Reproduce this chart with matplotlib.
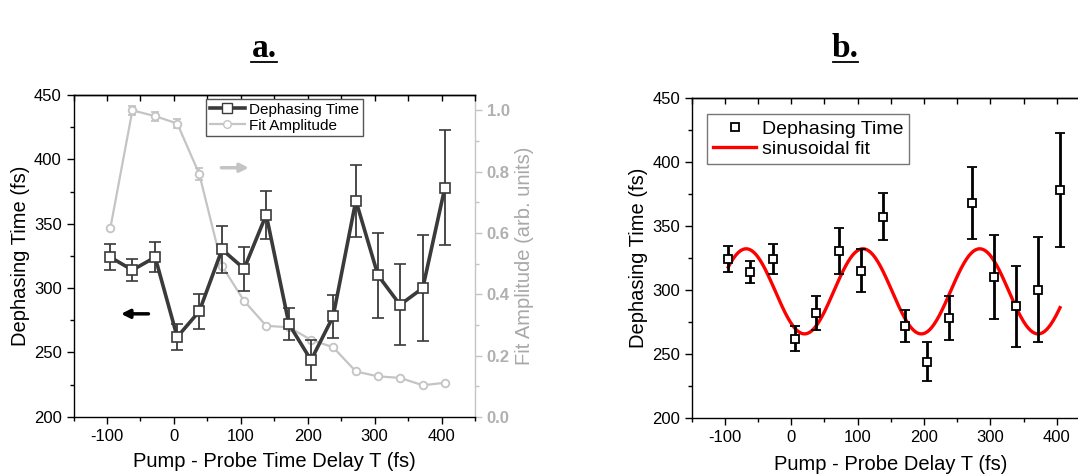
import numpy as np
import matplotlib
matplotlib.use("Agg")
import matplotlib.pyplot as plt
from matplotlib.lines import Line2D
from matplotlib.ticker import MultipleLocator

plt.rcParams['font.family'] = ['Liberation Sans', 'DejaVu Sans']
plt.rcParams['axes.unicode_minus'] = False

# ---------------- data ----------------
delay = [-95, -62, -28, 5, 38, 72, 105, 138, 172, 205, 238, 272, 305, 338, 372, 405]
dephasing = [324, 314, 324, 262, 282, 330, 315, 357, 272, 244, 278, 368, 310, 287, 300, 378]
dephasing_err = [10, 8.5, 11.5, 10, 13.5, 18, 17, 18.5, 12.5, 15.5, 17, 28, 33, 31.5, 41, 44.5]
fit_amp = [0.615, 1.00, 0.981, 0.957, 0.792, 0.492, 0.378, 0.297, 0.292, 0.251,
           0.227, 0.148, 0.132, 0.127, 0.103, 0.111]
fit_amp_err = [0, 0.015, 0.015, 0.015, 0.02, 0, 0, 0, 0, 0, 0, 0, 0, 0, 0, 0]

# sinusoidal fit parameters
fit_offset = 298.8
fit_amplitude = 33.2
fit_period = 176.0
fit_peak = -68.0

x_ticks = [-100, 0, 100, 200, 300, 400]
y_ticks = [200, 250, 300, 350, 400, 450]
amp_ticks = [0.0, 0.2, 0.4, 0.6, 0.8, 1.0]

# ---------------- styles ----------------
DARK = '#3a3a3a'
LIGHT = '#c4c4c4'
AXGRAY = '#b0b0b0'
TICK_FS = 12
LABEL_FS = 14.5

fig = plt.figure(figsize=(10.78, 4.75), dpi=100)


def style_axes(ax):
    ax.set_xlim(-150, 450)
    ax.set_ylim(200, 450)
    ax.set_xticks(x_ticks)
    ax.set_yticks(y_ticks)
    ax.xaxis.set_minor_locator(MultipleLocator(50))
    ax.yaxis.set_minor_locator(MultipleLocator(25))
    ax.tick_params(which='major', direction='out', length=5, width=1,
                   labelsize=TICK_FS, top=False, right=False)
    ax.tick_params(which='minor', direction='out', length=3, width=1,
                   top=False, right=False)
    for s in ax.spines.values():
        s.set_linewidth(1.0)
    sec = ax.secondary_xaxis('top')
    sec.set_xticks(x_ticks)
    sec.xaxis.set_minor_locator(MultipleLocator(50))
    sec.tick_params(which='both', direction='in', length=4, width=1, labeltop=False)
    sec.spines['top'].set_linewidth(1.0)
    return sec


# ================= panel a =================
ax1 = fig.add_axes([0.0682, 0.1225, 0.3724, 0.6775])
style_axes(ax1)
ax1.spines['right'].set_visible(False)
ax2 = ax1.twinx()
ax1.set_zorder(ax2.get_zorder() + 1)
ax1.patch.set_visible(False)

ax2.errorbar(delay, fit_amp, yerr=fit_amp_err, color=LIGHT, lw=1.6,
             marker='o', ms=5.5, mfc='white', mec=LIGHT, mew=1.3,
             ecolor=LIGHT, elinewidth=1.2, capsize=3, capthick=1.2)
ax2.set_ylim(0, 1.05)
ax2.set_yticks(amp_ticks)
ax2.yaxis.set_minor_locator(MultipleLocator(0.1))
ax2.tick_params(axis='y', which='major', direction='out', length=5, width=1,
                color=LIGHT, labelcolor=AXGRAY, labelsize=TICK_FS)
ax2.tick_params(axis='y', which='minor', direction='out', length=3, width=1, color=LIGHT)
for lab in ax2.get_yticklabels():
    lab.set_fontweight('bold')
ax2.spines['right'].set_color(LIGHT)
ax2.spines['right'].set_linewidth(1.0)
ax2.spines['top'].set_visible(False)
ax2.spines['left'].set_visible(False)
ax2.spines['bottom'].set_visible(False)
ax2.set_ylabel('Fit Amplitude (arb. units)', color='#a8a8a8', fontsize=LABEL_FS, labelpad=4)

ax1.errorbar(delay, dephasing, yerr=dephasing_err, color=DARK, lw=2.6,
             marker='s', ms=7, mfc='white', mec=DARK, mew=1.2,
             ecolor=DARK, elinewidth=1.3, capsize=4, capthick=1.3)
ax1.set_ylabel('Dephasing Time (fs)', fontsize=LABEL_FS, labelpad=3)
ax1.set_xlabel('Pump - Probe Time Delay T (fs)', fontsize=LABEL_FS, labelpad=6)

# direction arrows
ax1.annotate('', xy=(-79, 280), xytext=(-38, 280),
             arrowprops=dict(arrowstyle='-|>,head_length=0.5,head_width=0.25',
                             color='black', lw=2.5, shrinkA=0, shrinkB=0))
ax1.annotate('', xy=(112, 393.5), xytext=(71, 393.5),
             arrowprops=dict(arrowstyle='-|>,head_length=0.5,head_width=0.25',
                             color=LIGHT, lw=2.5, shrinkA=0, shrinkB=0))

h_a = [Line2D([], [], color=DARK, lw=2.6, marker='s', ms=7, mfc='white', mec=DARK),
       Line2D([], [], color=LIGHT, lw=1.6, marker='o', ms=5.5, mfc='white', mec=LIGHT)]
leg_a = ax1.legend(h_a, ['Dephasing Time', 'Fit Amplitude'], loc='upper left',
                   bbox_to_anchor=(205.7 / 1078, 1 - 99 / 475),
                   bbox_transform=fig.transFigure, borderaxespad=0,
                   fancybox=False, framealpha=1, edgecolor='#555555',
                   fontsize=11, handlelength=2.3, handletextpad=0.3,
                   labelspacing=0.12, borderpad=0.25)
leg_a.get_frame().set_linewidth(1.0)

# ================= panel b =================
axb = fig.add_axes([0.6417, 0.12, 0.3693, 0.6747])
style_axes(axb)

xfit = np.linspace(delay[0], delay[-1], 400)
yfit = fit_offset + fit_amplitude * np.cos(2 * np.pi * (xfit - fit_peak) / fit_period)
axb.plot(xfit, yfit, color='#ff0000', lw=2.4, zorder=2)
axb.errorbar(delay, dephasing, yerr=dephasing_err, ls='none', color='black',
             marker='s', ms=6, mfc='white', mec='black', mew=1.3,
             ecolor='black', elinewidth=2.0, capsize=3.5, capthick=2.0, zorder=3)
axb.set_ylabel('Dephasing Time (fs)', fontsize=LABEL_FS, labelpad=3)
axb.set_xlabel('Pump - Probe Delay T (fs)', fontsize=LABEL_FS, labelpad=7)

h_b = [Line2D([], [], ls='none', marker='s', ms=6, mfc='white', mec='black', mew=1.3),
       Line2D([], [], color='#ff0000', lw=2.4)]
leg_b = axb.legend(h_b, ['Dephasing Time', 'sinusoidal fit'], loc='upper left',
                   bbox_to_anchor=(707.3 / 1078, 1 - 114.3 / 475),
                   bbox_transform=fig.transFigure, borderaxespad=0,
                   fancybox=False, framealpha=1, edgecolor='#777777',
                   fontsize=14, handlelength=2.2, handletextpad=0.3,
                   labelspacing=0.15, borderpad=0.3)
leg_b.get_frame().set_linewidth(1.0)

# ================= panel titles =================
for label, cx, x0, x1 in [('a.', 264, 251, 277), ('b.', 845, 832.5, 858)]:
    fig.text(cx / 1078, 1 - 57 / 475, label, ha='center', va='baseline',
             fontsize=24, fontweight='bold', family='Liberation Serif')
    fig.add_artist(Line2D([x0 / 1078, x1 / 1078], [1 - 62 / 475, 1 - 62 / 475],
                          transform=fig.transFigure, color='black', lw=1.3))

fig.savefig('out.png', dpi=100)
